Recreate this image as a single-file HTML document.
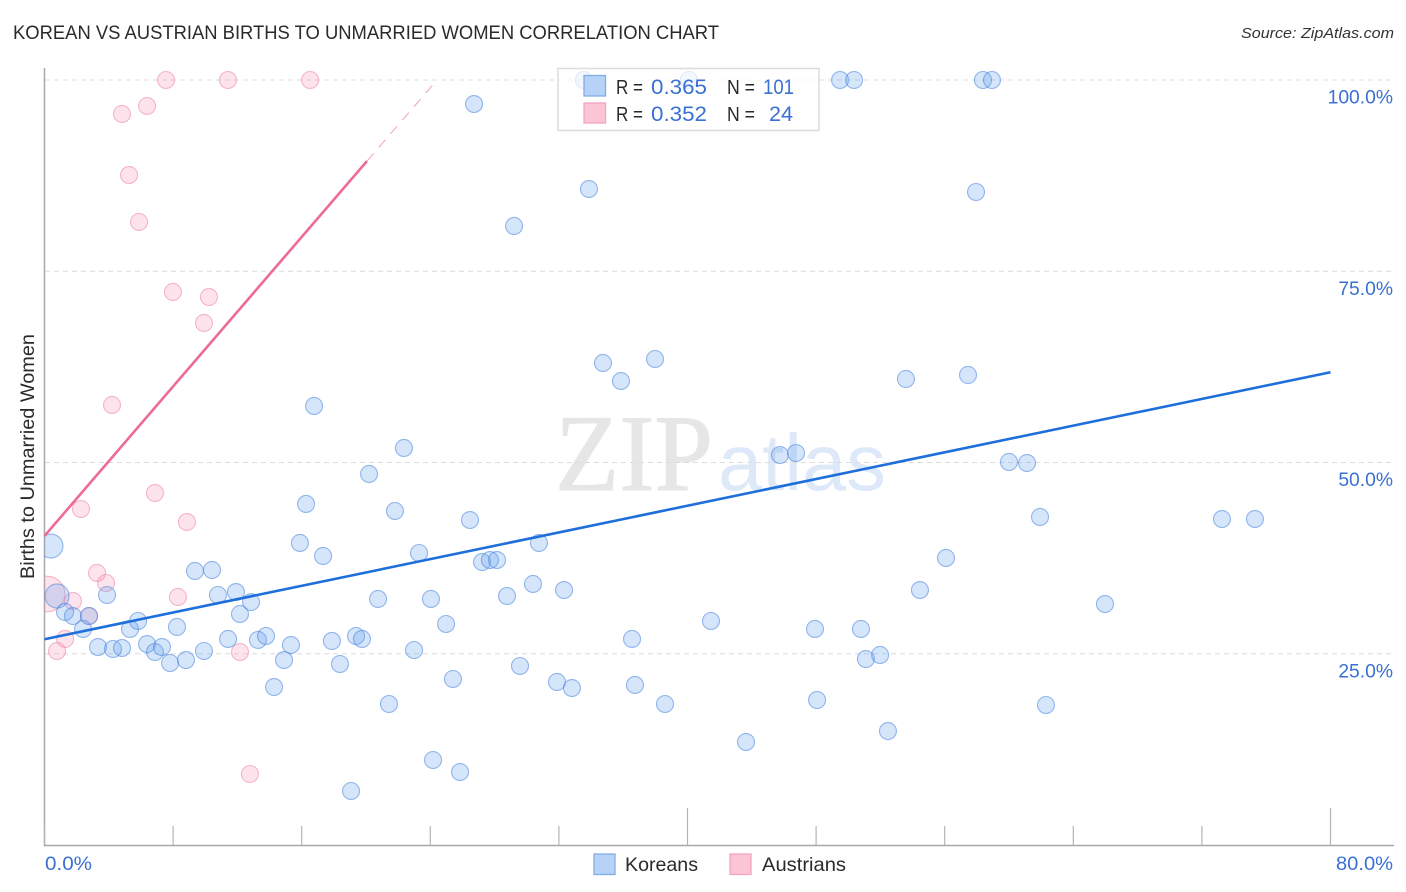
<!DOCTYPE html>
<html lang="en">
<head>
<meta charset="utf-8">
<title>Korean vs Austrian Births to Unmarried Women Correlation Chart</title>
<style>
html,body{margin:0;padding:0;background:#fff;width:1406px;height:892px;overflow:hidden}
svg{display:block;font-family:"Liberation Sans",sans-serif}
</style>
</head>
<body>
<svg id="chart" width="1406" height="892" viewBox="0 0 1406 892" xmlns="http://www.w3.org/2000/svg">
  <defs><clipPath id="plot-clip"><rect x="44.5" y="60" width="1350" height="785"/></clipPath></defs>
  <text x="13" y="39" font-size="19" fill="#2a2a2a" textLength="706" lengthAdjust="spacingAndGlyphs">KOREAN VS AUSTRIAN BIRTHS TO UNMARRIED WOMEN CORRELATION CHART</text>
  <text x="1241" y="38" font-size="15" font-style="italic" fill="#333" textLength="153" lengthAdjust="spacingAndGlyphs">Source: ZipAtlas.com</text>
  <g>
    <text x="555" y="490" font-family="'Liberation Serif',serif" font-size="109" fill="#e6e6e6" stroke="#e6e6e6" stroke-width="1" textLength="158" lengthAdjust="spacingAndGlyphs">ZIP</text>
    <text x="718" y="490" font-size="80" fill="#dde9f9" textLength="168" lengthAdjust="spacingAndGlyphs">atlas</text>
  </g>
  <g id="grid"></g>
  <g id="axes"></g>
  <g id="points" clip-path="url(#plot-clip)"></g>
  <g id="trends"></g>
  <g id="ticklabels"></g>
  <text transform="translate(34,579) rotate(-90)" font-size="19" fill="#2a2a2a" textLength="245" lengthAdjust="spacingAndGlyphs">Births to Unmarried Women</text>

  <g>
    <rect x="558" y="68.5" width="261" height="62" fill="#fff" fill-opacity="0.7" stroke="#dcdcdc" stroke-width="1.5"/>
    <rect x="584" y="75.5" width="21.5" height="20.5" fill="#b6d3f7" stroke="#82ace6" stroke-width="1.3"/>
    <rect x="584" y="103" width="21.5" height="20" fill="#fcc5d6" stroke="#f1a6bf" stroke-width="1.3"/>
    <g font-size="20" fill="#2a2a2a">
      <text x="616" y="94" textLength="27" lengthAdjust="spacingAndGlyphs">R =</text>
      <text x="727" y="94" textLength="28" lengthAdjust="spacingAndGlyphs">N =</text>
      <text x="616" y="121" textLength="27" lengthAdjust="spacingAndGlyphs">R =</text>
      <text x="727" y="121" textLength="28" lengthAdjust="spacingAndGlyphs">N =</text>
    </g>
    <g font-size="21.5" fill="#3a70d2">
      <text x="651" y="94" textLength="56" lengthAdjust="spacingAndGlyphs">0.365</text>
      <text x="763" y="94" textLength="31" lengthAdjust="spacingAndGlyphs">101</text>
      <text x="651" y="121" textLength="56" lengthAdjust="spacingAndGlyphs">0.352</text>
      <text x="769" y="121" textLength="24" lengthAdjust="spacingAndGlyphs">24</text>
    </g>
  </g>

  <g>
    <rect x="594" y="854" width="21" height="20.5" fill="#b6d3f7" stroke="#82ace6" stroke-width="1.3"/>
    <text x="625" y="871" font-size="19.5" fill="#2a2a2a" textLength="73" lengthAdjust="spacingAndGlyphs">Koreans</text>
    <rect x="730" y="854" width="21" height="20.5" fill="#fcc5d6" stroke="#f1a6bf" stroke-width="1.3"/>
    <text x="762" y="871" font-size="19.5" fill="#2a2a2a" textLength="84" lengthAdjust="spacingAndGlyphs">Austrians</text>
  </g>
</svg>
<script>
const koreanX = [0.40,0.78,1.28,1.77,2.77,2.40,3.89,5.32,5.82,3.33,4.26,4.82,6.38,6.87,7.31,7.81,8.80,9.92,8.24,9.36,10.42,10.79,11.91,12.85,12.16,11.42,13.28,13.78,15.33,14.90,14.28,33.56,40.09,49.49,50.36,58.38,58.94,26.72,33.87,29.21,57.95,34.74,37.98,35.86,53.59,57.45,16.77,22.36,20.19,45.75,46.75,60.00,61.12,16.27,21.80,26.47,61.93,73.25,75.30,30.76,15.89,17.33,23.30,56.08,27.22,27.71,28.15,30.39,32.32,20.75,24.04,28.77,54.46,65.97,24.98,41.46,47.93,50.79,36.55,17.88,19.38,19.75,22.99,51.10,51.98,18.38,29.58,25.41,31.88,32.81,36.73,21.43,38.60,48.06,62.30,52.47,43.64,24.17,25.85,19.07];
const koreanY = [39.08,32.55,30.46,29.93,29.93,28.24,32.68,28.24,29.28,25.88,25.62,25.75,26.27,25.23,25.88,23.79,24.18,25.36,28.50,35.82,35.95,32.68,33.07,31.76,30.20,26.93,26.80,27.32,26.14,24.18,20.65,100,100,100,100,100,100,96.86,85.75,80.92,85.36,63.01,63.53,60.65,60.92,61.44,57.39,51.90,48.50,50.98,51.24,50.07,49.93,44.58,43.66,42.48,42.88,42.61,42.61,39.48,39.48,37.78,38.17,37.52,36.99,37.25,37.25,34.12,33.33,32.16,32.16,32.55,33.33,31.50,28.89,29.28,28.24,28.24,26.93,26.67,27.32,26.93,25.49,24.31,24.84,23.66,23.40,21.70,21.31,20.52,20.92,18.43,18.43,18.95,18.30,14.90,13.46,11.11,9.54,7.06];
const koreanWeight = [2,2];
const austrianX = [0.16,1.77,3.27,3.83,2.77,1.28,0.78,12.16,8.30,8.86,2.27,6.87,4.20,9.92,10.23,7.99,5.88,5.26,4.82,6.38,7.56,11.41,16.52,12.78];
const austrianY = [32.81,31.90,35.56,34.25,29.93,26.93,25.36,25.23,32.42,42.22,43.92,46.01,57.52,68.24,71.63,72.29,81.44,87.58,95.56,96.60,100,100,100,9.28];
const austrianWeight = [4.4];
const koreanTrendX = [0,80];
const koreanTrendY = [26.9,61.8];
const austrianTrendX = [0,20.06];
const austrianTrendY = [40.4,89.4];
const austrianTrendExtX = [20.06,24.42];
const austrianTrendExtY = [89.4,100];
const yGridValues = [100,75,50,25];
const yTickLabels = ["100.0%","75.0%","50.0%","25.0%"];
const xTickValues = [0,8,16,24,32,40,48,56,64,72,80];
const xEndValues = [0,80];
const xEndLabels = ["0.0%","80.0%"];

const NS = 'http://www.w3.org/2000/svg';
const xScale = v => 44.5 + v * 16.075;
const yScale = v => 845 - v * 7.65;
const radius = w => 8.5 * Math.sqrt(w || 1);
function make(tag, parent, attrs) {
  const el = document.createElementNS(NS, tag);
  Object.keys(attrs).forEach(k => el.setAttribute(k, attrs[k]));
  parent.appendChild(el);
  return el;
}
const grid = document.getElementById('grid');
const axes = document.getElementById('axes');
const points = document.getElementById('points');
const trends = document.getElementById('trends');
const labels = document.getElementById('ticklabels');

yGridValues.forEach((v, i) => {
  const line = make('line', grid, {x1: 45, x2: 1394, y1: yScale(v), y2: yScale(v), stroke: '#dcdcdc', 'stroke-width': 1, 'stroke-dasharray': '5 4'});
  
  
  const t = make('text', labels, {x: 1393, y: yScale(v) + 23.5, 'font-size': 19.3, fill: '#3a70d2', 'text-anchor': 'end'});
  t.textContent = yTickLabels[i];
  
  
});

const yAxis = make('line', axes, {x1: 44.5, x2: 44.5, y1: 68, y2: 846, stroke: '#a8a8a8', 'stroke-width': 1.5});


const xAxis = make('line', axes, {x1: 44, x2: 1394, y1: 845.5, y2: 845.5, stroke: '#a8a8a8', 'stroke-width': 1.5});


xTickValues.forEach(v => {
  const major = v === 40 || v === 80;
  const tick = make('line', axes, {x1: xScale(v), x2: xScale(v), y1: major ? 808 : 826, y2: 845, stroke: '#b4b4b4', 'stroke-width': 1.2});
  
  
});
xEndValues.forEach((v, i) => {
  const t = make('text', labels, {x: i === 0 ? 45 : 1336, y: 870, 'font-size': 19.3, fill: '#3a70d2', textLength: i === 0 ? 47 : 57, lengthAdjust: 'spacingAndGlyphs'});
  t.textContent = xEndLabels[i];
  
  
});

austrianX.forEach((v, i) => {
  const c = make('circle', points, {cx: xScale(v), cy: yScale(austrianY[i]), r: radius(austrianWeight[i]), fill: 'rgba(247,150,182,0.27)', stroke: 'rgba(236,130,165,0.55)', 'stroke-width': 1.1});
  
  
});
koreanX.forEach((v, i) => {
  const c = make('circle', points, {cx: xScale(v), cy: yScale(koreanY[i]), r: radius(koreanWeight[i]), fill: 'rgba(105,162,236,0.28)', stroke: 'rgba(70,130,220,0.55)', 'stroke-width': 1.1});
  
  
});

const austrianTrend = make('line', trends, {x1: xScale(austrianTrendX[0]), y1: yScale(austrianTrendY[0]), x2: xScale(austrianTrendX[1]), y2: yScale(austrianTrendY[1]), stroke: '#ec6b98', 'stroke-width': 2.6});


const austrianExt = make('line', trends, {x1: xScale(austrianTrendExtX[0]), y1: yScale(austrianTrendExtY[0]), x2: xScale(austrianTrendExtX[1]), y2: yScale(austrianTrendExtY[1]), stroke: '#f0a3bd', 'stroke-width': 1, 'stroke-dasharray': '10 8'});


const koreanTrend = make('line', trends, {x1: xScale(koreanTrendX[0]), y1: yScale(koreanTrendY[0]), x2: xScale(koreanTrendX[1]), y2: yScale(koreanTrendY[1]), stroke: '#1f6fdb', 'stroke-width': 2.6});


</script>
</body>
</html>
